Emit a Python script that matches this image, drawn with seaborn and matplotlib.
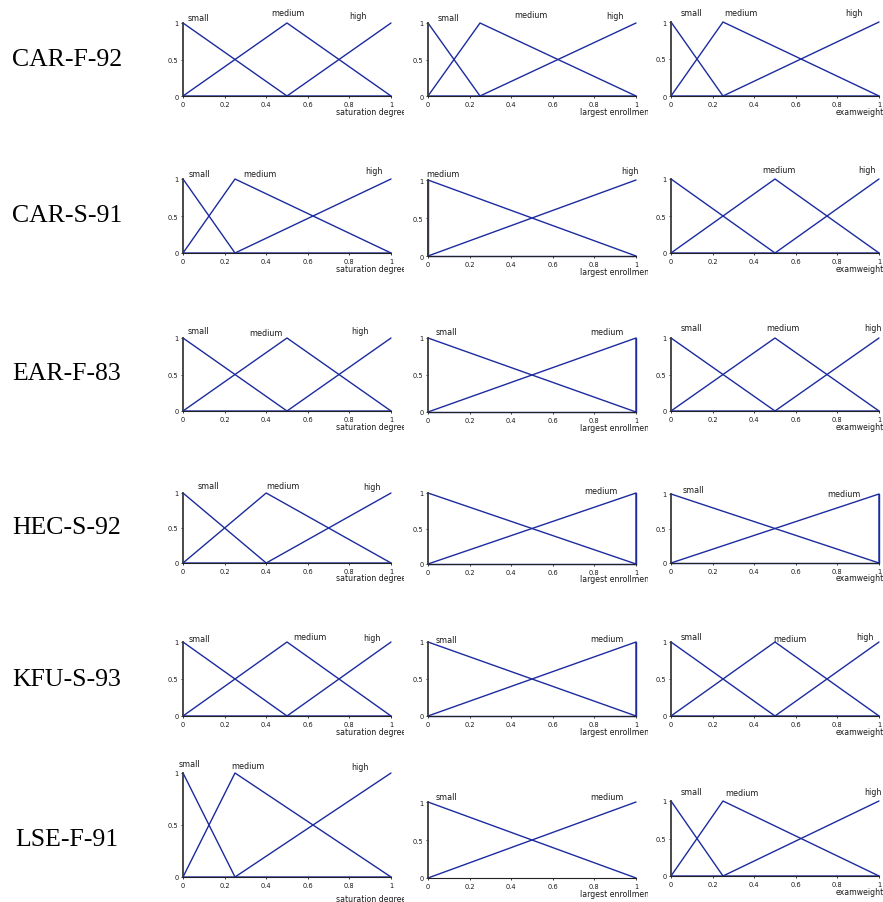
import matplotlib
matplotlib.use("Agg")
import matplotlib.pyplot as plt
from matplotlib.transforms import Bbox
import seaborn as sns
import pandas as pd

# ---------------- data ----------------
datasets = ["CAR-F-92", "CAR-S-91", "EAR-F-83", "HEC-S-92", "KFU-S-93", "LSE-F-91"]
features = ["saturation degree", "largest enrollment", "examweight"]
set_names = ["small", "medium", "high"]

# position of the "medium" peak for each dataset and feature
peak_saturation = [0.5, 0.25, 0.5, 0.4, 0.5, 0.25]
peak_enrollment = [0.25, 0.0, 1.0, 1.0, 1.0, 1.0]
peak_examweight = [0.25, 0.5, 0.5, 1.0, 0.5, 0.25]
# number of fuzzy sets drawn in each panel
nsets_saturation = [3, 3, 3, 3, 3, 3]
nsets_enrollment = [3, 3, 3, 3, 3, 2]
nsets_examweight = [3, 3, 3, 3, 3, 3]

# which set labels appear above each panel
labels_saturation = [["small", "medium", "high"]] * 6
labels_enrollment = [["small", "medium", "high"], ["medium", "high"], ["small", "medium"],
                     ["medium"], ["small", "medium"], ["small", "medium"]]
labels_examweight = [["small", "medium", "high"], ["medium", "high"], ["small", "medium", "high"],
                     ["small", "medium"], ["small", "medium", "high"], ["small", "medium", "high"]]

# ---------------- layout (pixels / data units) ----------------
W, H = 883, 903
col_x0 = [183, 428, 671]
col_w = 208
row_y = [[(24, 97), (24, 97), (23, 97)],
         [(180, 254), (181, 257), (180, 254)],
         [(339, 412), (339, 413), (339, 412)],
         [(494, 564), (494, 565), (495, 564)],
         [(643, 717), (643, 717), (643, 717)],
         [(774, 878), (803, 879), (802, 877)]]
label_y_center = [60, 216, 374, 528, 680, 840]
clip_right = [404, 648, 883]
xlabel_x = [0.735, 0.73, 0.79]

# label positions (x, y in data units) per panel, in order of label list
label_pos = [
    [[(0.072, 1.08), (0.505, 1.137), (0.84, 1.096)],
     [(0.096, 1.08), (0.495, 1.11), (0.90, 1.096)],
     [(0.10, 1.135), (0.337, 1.135), (0.88, 1.135)]],
    [[(0.077, 1.08), (0.37, 1.08), (0.92, 1.11)],
     [(0.072, 1.09), (0.97, 1.12)],
     [(0.52, 1.135), (0.94, 1.135)]],
    [[(0.072, 1.10), (0.40, 1.07), (0.85, 1.10)],
     [(0.09, 1.09), (0.86, 1.09)],
     [(0.10, 1.14), (0.54, 1.14), (0.97, 1.14)]],
    [[(0.12, 1.10), (0.48, 1.10), (0.91, 1.086)],
     [(0.83, 1.03)],
     [(0.11, 1.06), (0.83, 1.01)]],
    [[(0.077, 1.05), (0.61, 1.08), (0.91, 1.065)],
     [(0.09, 1.04), (0.86, 1.05)],
     [(0.10, 1.07), (0.57, 1.05), (0.93, 1.07)]],
    [[(0.03, 1.09), (0.31, 1.07), (0.85, 1.06)],
     [(0.09, 1.07), (0.86, 1.07)],
     [(0.10, 1.12), (0.34, 1.11), (0.97, 1.13)]],
]

LINE = "#1c2b9f"

sns.set_style("ticks")
plt.rcParams["font.family"] = ["DejaVu Sans"]

fig = plt.figure(figsize=(W / 100, H / 100), dpi=100)

peaks = [peak_saturation, peak_enrollment, peak_examweight]
nsets = [nsets_saturation, nsets_enrollment, nsets_examweight]
labels = [labels_saturation, labels_enrollment, labels_examweight]


def membership(p, n):
    rows = []
    if n == 3:
        shapes = {"small": [1, 0, 0], "medium": [0, 1, 0], "high": [0, 0, 1]}
        xs = [0, p, 1]
    else:
        shapes = {"small": [1, 0], "medium": [0, 1]}
        xs = [0, 1]
    for s, ys in shapes.items():
        for order, (x, y) in enumerate(zip(xs, ys)):
            rows.append({"set": s, "order": order, "x": x, "y": y})
    return pd.DataFrame(rows)


for r, name in enumerate(datasets):
    fig.text(67 / W, 1 - label_y_center[r] / H, name, ha="center", va="center",
             fontsize=18.5, family="Liberation Serif", color="black")
    for c in range(3):
        y1, y0 = row_y[r][c]
        ax = fig.add_axes([col_x0[c] / W, 1 - y0 / H, col_w / W, (y0 - y1) / H])
        df = membership(peaks[c][r], nsets[c][r])
        sns.lineplot(data=df, x="x", y="y", units="set", estimator=None, sort=False,
                     color=LINE, linewidth=1.0, ax=ax, legend=False, clip_on=False)
        ax.set_xlim(0, 1)
        ax.set_ylim(0, 1)
        ax.set_xticks([0, 0.2, 0.4, 0.6, 0.8, 1.0])
        ax.set_xticklabels(["0", "0.2", "0.4", "0.6", "0.8", "1"])
        ax.set_yticks([0, 0.5, 1])
        ax.set_yticklabels(["0", "0.5", "1"])
        ax.tick_params(labelsize=4.8, length=1.5, width=0.6, pad=1.8, colors="#1a1a1a")
        ax.set_xlabel("")
        ax.set_ylabel("")
        for sp in ["top", "right"]:
            ax.spines[sp].set_visible(False)
        ax.spines["left"].set_color("#3a3a3a")
        ax.spines["left"].set_linewidth(1.3)
        ax.spines["bottom"].set_color("#222222")
        ax.spines["bottom"].set_linewidth(0.8)
        ax.set_facecolor("none")

        for lab, (lx, ly) in zip(labels[c][r], label_pos[r][c]):
            ax.text(lx, ly, lab, ha="center", va="center", fontsize=5.8,
                    color="#1a1a1a", clip_on=False)

        t = ax.text(xlabel_x[c], -0.21, features[c], transform=ax.transAxes,
                    ha="left", va="center", fontsize=5.6, color="#1a1a1a")
        clip = Bbox.from_extents(0, 0, clip_right[c], H)
        t.set_clip_box(clip)
        t.set_clip_on(True)

fig.savefig("out.png", dpi=100, facecolor="white")
